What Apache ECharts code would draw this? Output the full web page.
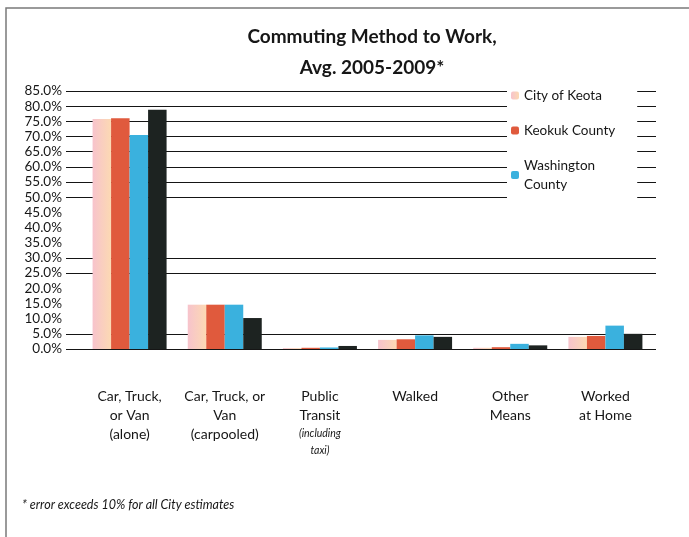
<!DOCTYPE html>
<html>
<head>
<meta charset="utf-8">
<script src="https://cdn.jsdelivr.net/npm/echarts@6/dist/echarts.min.js"></script>
<style>
  html, body { margin: 0; padding: 0; background: #fff; }
  #chart { width: 689px; height: 537px; }
</style>
</head>
<body>
<div id="chart"></div>
<script>
// Commuting method shares (percent of workers), 2005-2009 average
const categories = [
  'Car, Truck,\nor Van\n(alone)',
  'Car, Truck, or\nVan\n(carpooled)',
  'Public\nTransit\n(including\ntaxi)',
  'Walked',
  'Other\nMeans',
  'Worked\nat Home'
];
const seriesNames = ['City of Keota', 'Keokuk County', 'Washington\nCounty', 'Iowa'];
const keota      = [75.8, 14.6, 0.3, 3.0, 0.4, 4.0];
const keokuk     = [76.0, 14.6, 0.4, 3.2, 0.6, 4.3];
const washington = [70.5, 14.6, 0.5, 4.5, 1.7, 7.7];
const iowa       = [78.8, 10.2, 1.0, 4.0, 1.2, 5.0];

const yMin = 0, yMax = 85, yStep = 5;
// gridlines drawn only at these levels
const gridLevels = [0, 5, 25, 30, 50, 55, 60, 65, 70, 75, 80, 85];

const FONT = 'Lato, "Open Sans", sans-serif';
const INK = '#161616';
const lineColors = [];
for (let v = yMin; v <= yMax; v += yStep) {
  lineColors.push(gridLevels.includes(v) ? '#151515' : 'rgba(0,0,0,0)');
}

const keotaFill = new echarts.graphic.LinearGradient(0, 0, 1, 0, [
  { offset: 0, color: '#f7c3cc' },
  { offset: 1, color: '#fcd9b3' }
]);
const colors = [keotaFill, '#e05a3d', '#3ab1de', '#1d2321'];
const values = [keota, keokuk, washington, iowa];

const chart = echarts.init(document.getElementById('chart'), null, { renderer: 'canvas' });

const gridTop = 91, gridBottom = 537 - 349;

chart.setOption({
  backgroundColor: '#fff',
  animation: false,
  legend: {
    data: seriesNames.slice(0, 3),
    orient: 'vertical',
    left: 507,
    top: 82,
    itemWidth: 8,
    itemHeight: 8,
    itemGap: 16,
    padding: [4, 22, 6, 4],
    backgroundColor: '#fff',
    textStyle: { fontFamily: FONT, fontSize: 13.5, color: INK, lineHeight: 19 }
  },
  grid: [
    // gridline + y label layer
    { left: 66, right: 33, top: gridTop, bottom: gridBottom },
    // bar layer
    { left: 82, right: 36, top: gridTop, bottom: gridBottom }
  ],
  xAxis: [
    { type: 'value', gridIndex: 0, show: false, min: 0, max: 1 },
    {
      type: 'category', gridIndex: 1, data: categories,
      axisLine: { show: false },
      axisTick: { show: false },
      axisLabel: {
        interval: 0, margin: 38, color: INK, fontFamily: FONT, fontSize: 14, lineHeight: 19,
        formatter: function (val) {
          return val.split('\n').map(function (ln) {
            return (ln.startsWith('(including') || ln === 'taxi)') ? '{i|' + ln + '}' : '{n|' + ln + '}';
          }).join('\n');
        },
        rich: {
          n: { fontFamily: FONT, fontSize: 14, lineHeight: 19, color: INK },
          i: { fontFamily: FONT, fontSize: 10.5, fontStyle: 'italic', lineHeight: 17, color: INK }
        }
      }
    }
  ],
  yAxis: [
    {
      type: 'value', gridIndex: 0, min: yMin, max: yMax, interval: yStep,
      axisLine: { show: false },
      axisTick: { show: false },
      axisLabel: {
        margin: 4, color: INK, fontFamily: FONT, fontSize: 13.5,
        formatter: function (v) { return v.toFixed(1) + '%'; }
      },
      splitLine: { show: true, lineStyle: { color: lineColors, width: 1 } }
    },
    {
      type: 'value', gridIndex: 1, min: yMin, max: yMax, interval: yStep,
      axisLine: { show: false }, axisTick: { show: false }, axisLabel: { show: false },
      splitLine: { show: false }
    }
  ],
  series: values.map(function (arr, i) {
    return {
      name: seriesNames[i],
      type: 'bar',
      xAxisIndex: 1,
      yAxisIndex: 1,
      data: arr,
      barWidth: 18.5,
      barGap: '0%',
      itemStyle: { color: colors[i] }
    };
  }),
  graphic: [
    {
      type: 'polyline', silent: true,
      shape: { points: [[6, 537], [6, 8], [689, 8]] },
      style: { stroke: '#7a7a7a', lineWidth: 1.5, fill: null }
    },
    {
      type: 'text', x: 372, y: 37,
      style: { text: 'Commuting Method to Work,', font: 'bold 19px ' + FONT, fill: INK, align: 'center', verticalAlign: 'middle' }
    },
    {
      type: 'text', x: 372, y: 68,
      style: { text: 'Avg. 2005-2009*', font: 'bold 19px ' + FONT, fill: INK, align: 'center', verticalAlign: 'middle' }
    },
    {
      type: 'text', x: 22, y: 505,
      style: { text: '* error exceeds 10% for all City estimates', font: 'italic 12.5px ' + FONT, fill: INK, align: 'left', verticalAlign: 'middle' }
    }
  ]
});
</script>
</body>
</html>
